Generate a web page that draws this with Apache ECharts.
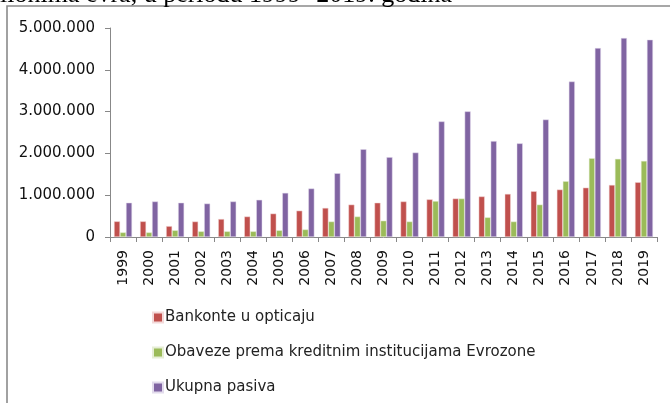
<!DOCTYPE html>
<html><head><meta charset="utf-8">
<script src="https://cdn.jsdelivr.net/npm/echarts@6/dist/echarts.min.js"></script>
<style>html,body{margin:0;padding:0;background:#fff}#c{width:670px;height:403px}</style>
</head><body><div id="c"></div>
<script>
const years = ['1999','2000','2001','2002','2003','2004','2005','2006','2007','2008','2009','2010','2011','2012','2013','2014','2015','2016','2017','2018','2019'];
const bankonte = [374000,374000,260000,370000,430000,490000,560000,630000,695000,775000,820000,850000,900000,920000,970000,1030000,1095000,1135000,1180000,1245000,1310000];
const obaveze = [110000,110000,160000,135000,135000,135000,160000,180000,370000,490000,390000,370000,860000,920000,470000,370000,775000,1335000,1885000,1870000,1820000];
const ukupno = [820000,850000,820000,800000,850000,890000,1055000,1160000,1525000,2100000,1910000,2020000,2765000,3005000,2295000,2240000,2810000,3720000,4520000,4760000,4720000];
const seriesNames = ['Bankonte u opticaju','Obaveze prema kreditnim institucijama Evrozone','Ukupna pasiva'];
const titleText = 'milionima evra, u periodu 1999- 2019. godina';

const chart = echarts.init(document.getElementById('c'));
const fmt = v => String(v).replace(/\B(?=(\d{3})+(?!\d))/g, '.');
const font = '"DejaVu Sans", sans-serif';
chart.setOption({
  animation: false,
  graphic: [
    {type:'rect', shape:{x:7, y:6, width:700, height:420}, style:{fill:'none', stroke:'#8a8a8a', lineWidth:1.6}, silent:true},
    {type:'text', x:452, y:8, style:{text:titleText, font:'26px "Liberation Serif", serif', fill:'#000', textAlign:'right', textVerticalAlign:'bottom'}}
  ],
  grid: {left:110, right:13, top:28, bottom:166, containLabel:false},
  legend: {
    orient:'vertical', left:147, top:305, itemGap:20, itemWidth:10, itemHeight:10, icon:'rect',
    textStyle:{fontFamily:font, fontSize:15, color:'#222', padding:[0,0,0,-3]},
    data: seriesNames
  },
  xAxis: {
    type:'category', data:years,
    axisLine:{lineStyle:{color:'#888'}},
    axisTick:{show:true, alignWithLabel:false, length:5, lineStyle:{color:'#888'}},
    axisLabel:{rotate:90, fontFamily:font, fontSize:14, color:'#111', margin:13, interval:0}
  },
  yAxis: {
    type:'value', min:0, max:5000000, interval:1000000,
    axisLine:{show:true, lineStyle:{color:'#888'}},
    axisTick:{show:true, length:5, lineStyle:{color:'#888'}},
    splitLine:{show:false},
    axisLabel:{formatter:fmt, fontFamily:font, fontSize:15, color:'#111', margin:15}
  },
  series: [
    {name:seriesNames[0], type:'bar', data:bankonte, barWidth:6, barGap:'0%', itemStyle:{color:'#C0504D', borderColor:'#f3d9d9', borderWidth:0.5}},
    {name:seriesNames[1], type:'bar', data:obaveze, barWidth:6, barGap:'0%', itemStyle:{color:'#9BBB59', borderColor:'#e6eed6', borderWidth:0.5}},
    {name:seriesNames[2], type:'bar', data:ukupno, barWidth:6, barGap:'0%', itemStyle:{color:'#8064A2', borderColor:'#e2dbec', borderWidth:0.5}}
  ]
});
</script></body></html>
